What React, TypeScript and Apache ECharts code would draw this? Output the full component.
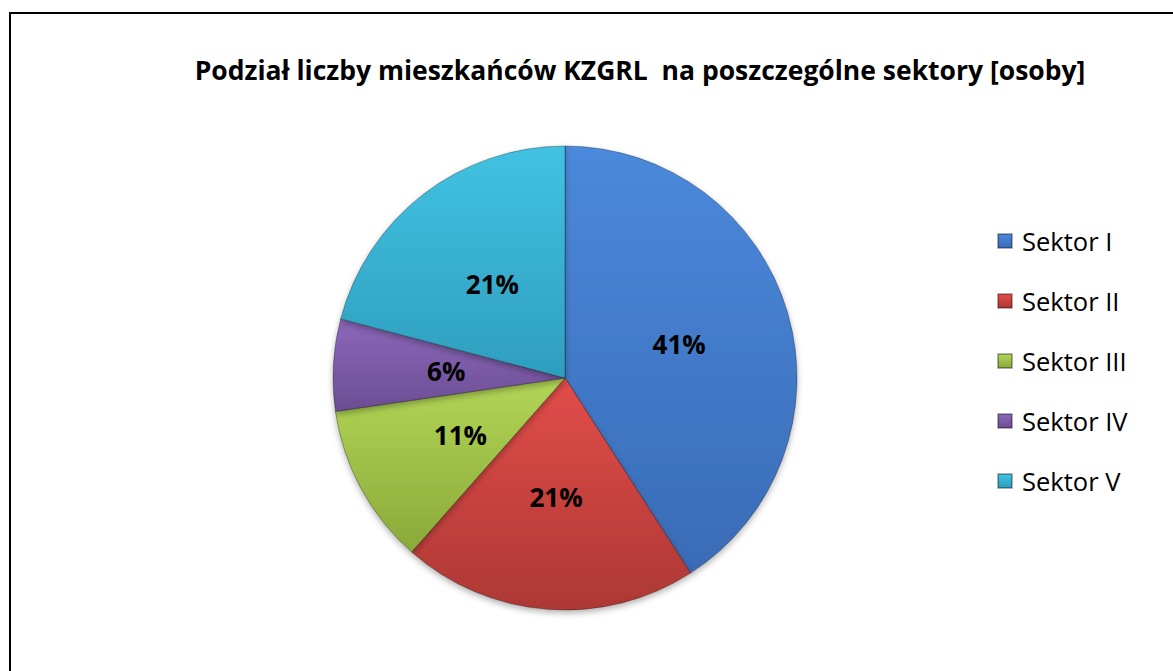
import React, { useEffect, useRef } from "react";
import * as echarts from "echarts";

const TITLE = "Podział liczby mieszkańców KZGRL  na poszczególne sektory [osoby]";
const categories = ["Sektor I", "Sektor II", "Sektor III", "Sektor IV", "Sektor V"];
const values = [40.9, 20.6, 11.2, 6.4, 20.9];
const topColors = ["#4b89db", "#e24d49", "#b2d657", "#8c68ba", "#42c2e2"];
const bottomColors = ["#3a6bb6", "#ad3834", "#8aa938", "#6c4d94", "#2e9ebe"];

const FONT = "'Open Sans', sans-serif";

export default function App() {
  const ref = useRef<HTMLDivElement>(null);
  useEffect(() => {
    if (!ref.current) return;
    const chart = echarts.init(ref.current, null, { renderer: "svg" });
    const data = categories.map((name, i) => ({
      name,
      value: values[i],
      itemStyle: {
        color: new echarts.graphic.LinearGradient(0, 0, 0, 1, [
          { offset: 0, color: topColors[i] },
          { offset: 1, color: bottomColors[i] },
        ]),
      },
    }));
    chart.setOption({
      animation: false,
      backgroundColor: "#ffffff",
      title: {
        text: TITLE,
        left: 635,
        top: 51,
        textAlign: "center",
        textStyle: { fontFamily: FONT, fontWeight: "bold", fontSize: 26.5, color: "#000000" },
      },
      legend: {
        orient: "vertical",
        left: 992,
        top: 223,
        icon: "rect",
        itemWidth: 14,
        itemHeight: 14,
        itemGap: 34,
        data: categories,
        textStyle: { fontFamily: FONT, fontSize: 25.5, color: "#000000", lineHeight: 25, padding: [0, 0, 0, 5] },
      },
      graphic: [
        {
          type: "rect",
          shape: { x: 10, y: 13, width: 1300, height: 800 },
          style: { fill: "none", stroke: "#000000", lineWidth: 2 },
          silent: true,
        },
      ],
      series: [
        {
          type: "pie",
          center: [565, 378],
          radius: 232,
          startAngle: 90,
          clockwise: true,
          data,
          label: {
            show: true,
            position: "inside",
            formatter: (p: any) => Math.round(p.percent) + "%",
            fontFamily: FONT,
            fontWeight: "bold",
            fontSize: 26,
            color: "#000000",
          },
          labelLine: { show: false },
          itemStyle: {
            borderColor: "rgba(0,0,0,0.3)",
            borderWidth: 1,
            shadowBlur: 6,
            shadowOffsetY: 3,
            shadowColor: "rgba(0,0,0,0.3)",
          },
          emphasis: { disabled: true },
        },
      ],
    });
    return () => chart.dispose();
  }, []);
  return (
    <div
      ref={ref}
      style={{ position: "fixed", left: 0, top: 0, width: 1173, height: 671, background: "#fff" }}
    />
  );
}
